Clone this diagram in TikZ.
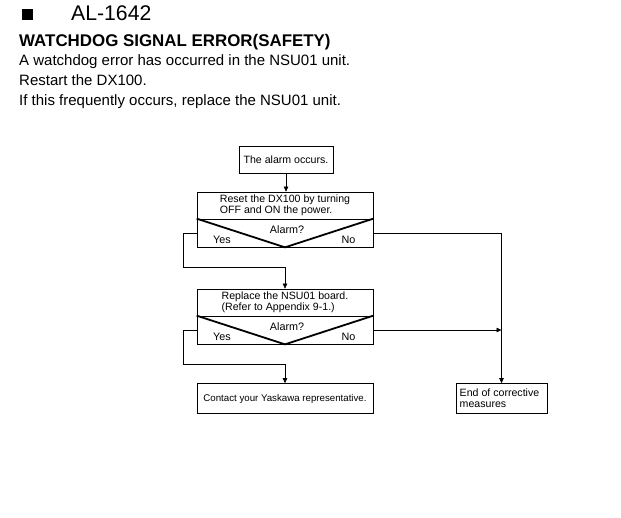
\documentclass[tikz,border=0pt]{standalone}
\usepackage{fontspec}
\setmainfont{Liberation Sans}
\usetikzlibrary{arrows.meta}
\begin{document}
\begin{tikzpicture}[x=1pt,y=-1pt,
  box/.style={draw, line width=0.7pt, inner sep=0pt, font=\fontsize{10.6}{11}\selectfont},
  vline/.style={line width=1.8pt, line join=miter},
  conn/.style={line width=0.7pt},
  arr/.style={conn, -{Triangle[length=5pt,width=4.5pt]}},
  lbl/.style={inner sep=0pt, font=\fontsize{10.8}{12}\selectfont},
  body/.style={anchor=base west, inner sep=0pt, font=\fontsize{15}{18}\selectfont}
]
\useasboundingbox (0,0) rectangle (621,518);

% header
\node[fill, minimum size=11pt, inner sep=0pt] (sq) at (27.5,14.5) {};
\node[anchor=base west, inner sep=0pt, font=\fontsize{21.2}{24}\selectfont] (title) at (71,20.7) {AL-1642};
\node[anchor=base west, inner sep=0pt, font=\bfseries\fontsize{16.9}{20}\selectfont] (head) at (19,46.7) {WATCHDOG SIGNAL ERROR(SAFETY)};
\node[body] (l1) at (19,66) {A watchdog error has occurred in the NSU01 unit.};
\node[body] (l2) at (19,86) {Restart the DX100.};
\node[body] (l3) at (19,106) {If this frequently occurs, replace the NSU01 unit.};

% flowchart
\node[box, minimum width=94pt, minimum height=27pt] (alarm) at (286,159.5) {The alarm occurs.};

\node[box, minimum width=176pt, minimum height=27pt, align=left] (reset) at (285,205.5) {Reset the DX100 by turning\\OFF and ON the power.};
\node[box, minimum width=176pt, minimum height=28pt] (dec1) at (285,233) {};
\draw[vline] (dec1.north west) -- (dec1.south) -- (dec1.north east);
\node[lbl] (q1) at (287,230) {Alarm?};
\node[lbl] (y1) at (222,239.5) {Yes};
\node[lbl] (n1) at (348.5,239.5) {No};

\node[box, minimum width=176pt, minimum height=27pt, align=left] (repl) at (285,302.5) {Replace the NSU01 board.\\(Refer to Appendix 9-1.)};
\node[box, minimum width=176pt, minimum height=28pt] (dec2) at (285,330) {};
\draw[vline] (dec2.north west) -- (dec2.south) -- (dec2.north east);
\node[lbl] (q2) at (287,327) {Alarm?};
\node[lbl] (y2) at (222,336.5) {Yes};
\node[lbl] (n2) at (348.5,336.5) {No};

\node[box, minimum width=176pt, minimum height=30pt, font=\fontsize{9.7}{12}\selectfont] (contact) at (285,398.5) {Contact your Yaskawa representative.};
\node[box, minimum width=91pt, minimum height=30pt, align=left] (endb) at (501.5,398.5) {End of corrective\\measures\hspace*{37pt}};

% connectors
\coordinate (c1) at (183,267);
\coordinate (c2) at (183,364);
\draw[arr] (alarm.south) -- (alarm.south |- reset.north);
\draw[arr] (dec1.west) -- (dec1.west -| c1) -- (c1) -- (c1 -| repl.north) -- (repl.north);
\draw[arr] (dec2.west) -- (dec2.west -| c2) -- (c2) -- (c2 -| contact.north) -- (contact.north);
\draw[arr] (dec1.east) -| (endb.north);
\draw[arr] (dec2.east) -- (dec2.east -| endb.north);
\end{tikzpicture}
\end{document}
